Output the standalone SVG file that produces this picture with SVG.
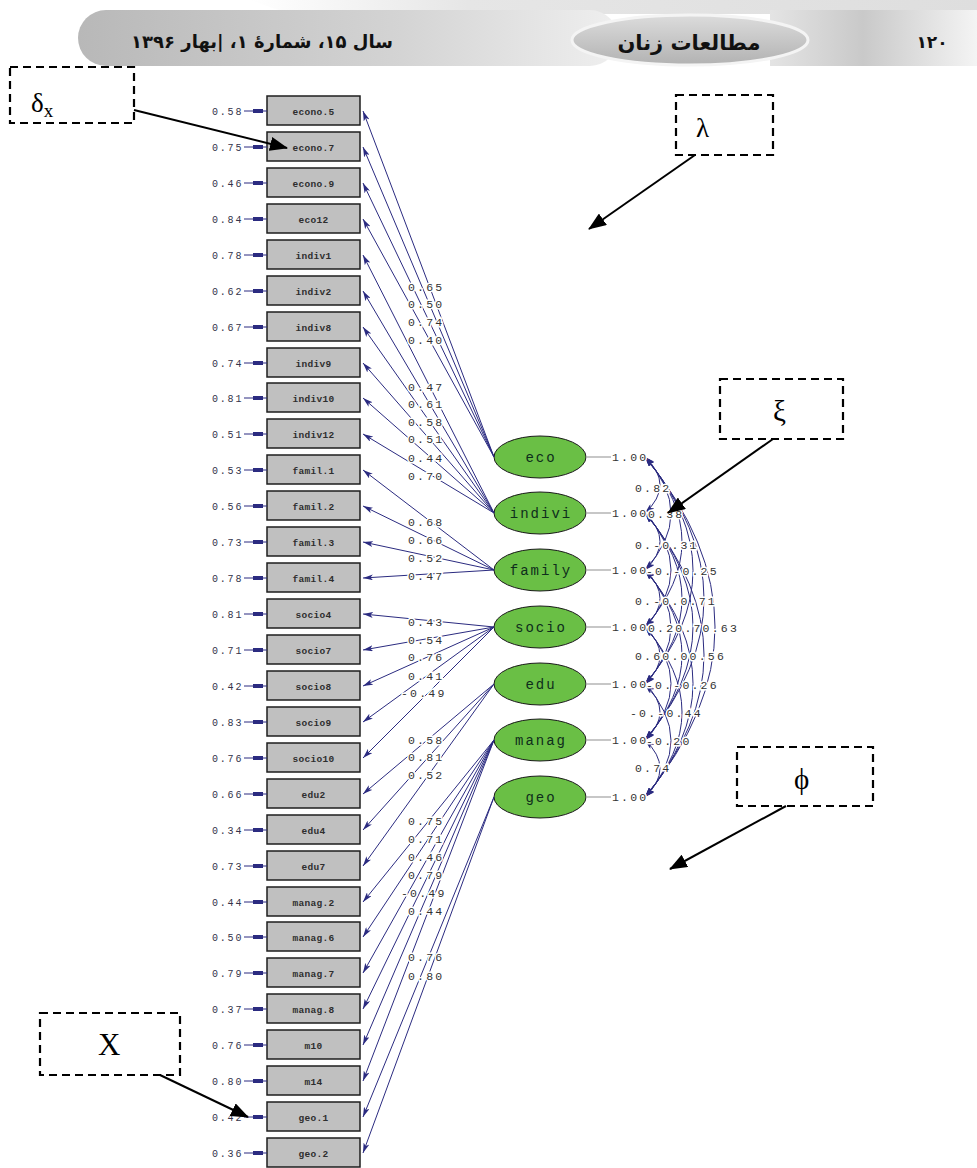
<svg xmlns="http://www.w3.org/2000/svg" width="977" height="1168" viewBox="0 0 977 1168">
<style>
.box{fill:#c0c0c0;stroke:#1e1e1e;stroke-width:1.5}
.bl{font-family:"Liberation Mono","DejaVu Sans Mono",monospace;font-size:9.5px;font-weight:bold;fill:#2e2e2e;text-anchor:middle;letter-spacing:0.3px}
.fac{fill:#6abf45;stroke:#1a1a1a;stroke-width:1}
.fl{font-family:"Liberation Mono","DejaVu Sans Mono",monospace;font-size:14px;fill:#0e2e1c;text-anchor:middle;letter-spacing:2px}
.num{font-family:"Liberation Mono","DejaVu Sans Mono",monospace;font-size:11.5px;fill:#333;letter-spacing:2.2px;stroke:#fff;stroke-width:3;paint-order:stroke}
.err{font-family:"Liberation Mono","DejaVu Sans Mono",monospace;font-size:10px;fill:#33334a;letter-spacing:1.8px}
.ld{stroke:#2b2b80;stroke-width:1;fill:none;marker-end:url(#ah)}
.cv{stroke:#2b2b80;stroke-width:1;fill:none;marker-start:url(#ah2);marker-end:url(#ah2)}
.gl{stroke:#b5b5b5;stroke-width:1.5}
.dash{fill:none;stroke:#000;stroke-width:2.2;stroke-dasharray:8 5}
.ann{stroke:#000;stroke-width:2;marker-end:url(#bh)}
.greek{font-family:"Liberation Serif","DejaVu Serif",serif;fill:#000}
.hd{font-family:"DejaVu Sans",sans-serif;font-weight:bold;fill:#111;text-anchor:middle}
</style>
<defs>
<marker id="ah" viewBox="0 0 10 6" refX="10" refY="3" markerWidth="10" markerHeight="6" markerUnits="userSpaceOnUse" orient="auto"><path d="M0,0 L10,3 L0,6 L2.5,3 z" fill="#2b2b80"/></marker>
<marker id="ah2" viewBox="0 0 10 6" refX="10" refY="3" markerWidth="10" markerHeight="6" markerUnits="userSpaceOnUse" orient="auto-start-reverse"><path d="M0,0 L10,3 L0,6 L2.5,3 z" fill="#2b2b80"/></marker>
<marker id="bh" viewBox="0 0 18 14" refX="17" refY="7" markerWidth="18" markerHeight="14" markerUnits="userSpaceOnUse" orient="auto"><path d="M0,0 L18,7 L0,14 z" fill="#000"/></marker>
<g id="ea"><line x1="244" y1="0" x2="267" y2="0" stroke="#2b2b80" stroke-width="1"/><rect x="253" y="-2" width="10" height="4" fill="#2b2b80"/></g>
<linearGradient id="gL" x1="0" y1="0" x2="1" y2="0"><stop offset="0" stop-color="#b8b8b8"/><stop offset="0.6" stop-color="#d4d4d4"/><stop offset="1" stop-color="#efefef"/></linearGradient>
<linearGradient id="gR" x1="0" y1="0" x2="1" y2="0"><stop offset="0" stop-color="#e4e4e4"/><stop offset="0.45" stop-color="#c9c9c9"/><stop offset="1" stop-color="#f4f4f4"/></linearGradient>
<linearGradient id="gT" x1="0" y1="0" x2="1" y2="0"><stop offset="0" stop-color="#ffffff"/><stop offset="0.3" stop-color="#e6e6e6"/><stop offset="1" stop-color="#dedede"/></linearGradient>
<linearGradient id="gM" x1="0" y1="0" x2="0" y2="1"><stop offset="0" stop-color="#dcdcdc"/><stop offset="1" stop-color="#b2b2b2"/></linearGradient>
</defs>

<g id="header">
<path d="M250 0 H977 V14 H290 Z" fill="url(#gT)"/>
<rect x="78" y="10" width="540" height="56" rx="28" fill="url(#gL)"/>
<rect x="770" y="10" width="207" height="56" fill="url(#gR)"/>
<ellipse cx="690" cy="40" rx="118" ry="25" fill="url(#gM)" stroke="#f4f4f4" stroke-width="3"/>
<text class="hd" x="262" y="48" font-size="18">سال ۱۵، شمارۀ ۱، |بهار ۱۳۹۶</text>
<text class="hd" x="689" y="50" font-size="21">مطالعات زنان</text>
<text class="hd" x="932" y="48" font-size="17">۱۲۰</text>
</g>

<g id="boxes">
<g id="n-econo5"><rect class="box" x="267" y="96" width="93" height="29"/><text class="bl" x="313.5" y="114.5">econo.5</text><text class="err" x="212" y="115">0.58</text></g>
<g id="n-econo7"><rect class="box" x="267" y="132" width="93" height="29"/><text class="bl" x="313.5" y="150.5">econo.7</text><text class="err" x="212" y="151">0.75</text></g>
<g id="n-econo9"><rect class="box" x="267" y="168" width="93" height="29"/><text class="bl" x="313.5" y="186.5">econo.9</text><text class="err" x="212" y="187">0.46</text></g>
<g id="n-eco12"><rect class="box" x="267" y="204" width="93" height="29"/><text class="bl" x="313.5" y="222.5">eco12</text><text class="err" x="212" y="223">0.84</text></g>
<g id="n-indiv1"><rect class="box" x="267" y="240" width="93" height="29"/><text class="bl" x="313.5" y="258.5">indiv1</text><text class="err" x="212" y="259">0.78</text></g>
<g id="n-indiv2"><rect class="box" x="267" y="276" width="93" height="29"/><text class="bl" x="313.5" y="294.5">indiv2</text><text class="err" x="212" y="295">0.62</text></g>
<g id="n-indiv8"><rect class="box" x="267" y="312" width="93" height="29"/><text class="bl" x="313.5" y="330.5">indiv8</text><text class="err" x="212" y="331">0.67</text></g>
<g id="n-indiv9"><rect class="box" x="267" y="348" width="93" height="29"/><text class="bl" x="313.5" y="366.5">indiv9</text><text class="err" x="212" y="367">0.74</text></g>
<g id="n-indiv10"><rect class="box" x="267" y="383" width="93" height="29"/><text class="bl" x="313.5" y="401.5">indiv10</text><text class="err" x="212" y="402">0.81</text></g>
<g id="n-indiv12"><rect class="box" x="267" y="419" width="93" height="29"/><text class="bl" x="313.5" y="437.5">indiv12</text><text class="err" x="212" y="438">0.51</text></g>
<g id="n-famil1"><rect class="box" x="267" y="455" width="93" height="29"/><text class="bl" x="313.5" y="473.5">famil.1</text><text class="err" x="212" y="474">0.53</text></g>
<g id="n-famil2"><rect class="box" x="267" y="491" width="93" height="29"/><text class="bl" x="313.5" y="509.5">famil.2</text><text class="err" x="212" y="510">0.56</text></g>
<g id="n-famil3"><rect class="box" x="267" y="527" width="93" height="29"/><text class="bl" x="313.5" y="545.5">famil.3</text><text class="err" x="212" y="546">0.73</text></g>
<g id="n-famil4"><rect class="box" x="267" y="563" width="93" height="29"/><text class="bl" x="313.5" y="581.5">famil.4</text><text class="err" x="212" y="582">0.78</text></g>
<g id="n-socio4"><rect class="box" x="267" y="599" width="93" height="29"/><text class="bl" x="313.5" y="617.5">socio4</text><text class="err" x="212" y="618">0.81</text></g>
<g id="n-socio7"><rect class="box" x="267" y="635" width="93" height="29"/><text class="bl" x="313.5" y="653.5">socio7</text><text class="err" x="212" y="654">0.71</text></g>
<g id="n-socio8"><rect class="box" x="267" y="671" width="93" height="29"/><text class="bl" x="313.5" y="689.5">socio8</text><text class="err" x="212" y="690">0.42</text></g>
<g id="n-socio9"><rect class="box" x="267" y="707" width="93" height="29"/><text class="bl" x="313.5" y="725.5">socio9</text><text class="err" x="212" y="726">0.83</text></g>
<g id="n-socio10"><rect class="box" x="267" y="743" width="93" height="29"/><text class="bl" x="313.5" y="761.5">socio10</text><text class="err" x="212" y="762">0.76</text></g>
<g id="n-edu2"><rect class="box" x="267" y="779" width="93" height="29"/><text class="bl" x="313.5" y="797.5">edu2</text><text class="err" x="212" y="798">0.66</text></g>
<g id="n-edu4"><rect class="box" x="267" y="815" width="93" height="29"/><text class="bl" x="313.5" y="833.5">edu4</text><text class="err" x="212" y="834">0.34</text></g>
<g id="n-edu7"><rect class="box" x="267" y="851" width="93" height="29"/><text class="bl" x="313.5" y="869.5">edu7</text><text class="err" x="212" y="870">0.73</text></g>
<g id="n-manag2"><rect class="box" x="267" y="887" width="93" height="29"/><text class="bl" x="313.5" y="905.5">manag.2</text><text class="err" x="212" y="906">0.44</text></g>
<g id="n-manag6"><rect class="box" x="267" y="922" width="93" height="29"/><text class="bl" x="313.5" y="940.5">manag.6</text><text class="err" x="212" y="941">0.50</text></g>
<g id="n-manag7"><rect class="box" x="267" y="958" width="93" height="29"/><text class="bl" x="313.5" y="976.5">manag.7</text><text class="err" x="212" y="977">0.79</text></g>
<g id="n-manag8"><rect class="box" x="267" y="994" width="93" height="29"/><text class="bl" x="313.5" y="1012.5">manag.8</text><text class="err" x="212" y="1013">0.37</text></g>
<g id="n-m10"><rect class="box" x="267" y="1030" width="93" height="29"/><text class="bl" x="313.5" y="1048.5">m10</text><text class="err" x="212" y="1049">0.76</text></g>
<g id="n-m14"><rect class="box" x="267" y="1066" width="93" height="29"/><text class="bl" x="313.5" y="1084.5">m14</text><text class="err" x="212" y="1085">0.80</text></g>
<g id="n-geo1"><rect class="box" x="267" y="1102" width="93" height="29"/><text class="bl" x="313.5" y="1120.5">geo.1</text><text class="err" x="212" y="1121">0.42</text></g>
<g id="n-geo2"><rect class="box" x="267" y="1138" width="93" height="29"/><text class="bl" x="313.5" y="1156.5">geo.2</text><text class="err" x="212" y="1157">0.36</text></g>
</g>

<g id="factors">
<g id="f-eco"><ellipse class="fac" cx="540" cy="457" rx="46" ry="21"/><text class="fl" x="541" y="462">eco</text></g>
<g id="f-indivi"><ellipse class="fac" cx="540" cy="513" rx="46" ry="21"/><text class="fl" x="541" y="518">indivi</text></g>
<g id="f-family"><ellipse class="fac" cx="540" cy="570" rx="46" ry="21"/><text class="fl" x="541" y="575">family</text></g>
<g id="f-socio"><ellipse class="fac" cx="540" cy="627" rx="46" ry="21"/><text class="fl" x="541" y="632">socio</text></g>
<g id="f-edu"><ellipse class="fac" cx="540" cy="684" rx="46" ry="21"/><text class="fl" x="541" y="689">edu</text></g>
<g id="f-manag"><ellipse class="fac" cx="540" cy="740" rx="46" ry="21"/><text class="fl" x="541" y="745">manag</text></g>
<g id="f-geo"><ellipse class="fac" cx="540" cy="797" rx="46" ry="21"/><text class="fl" x="541" y="802">geo</text></g>
</g>

<g id="connectors">
<g id="loadings">
<line class="ld" x1="494" y1="457" x2="363" y2="111"/>
<line class="ld" x1="494" y1="457" x2="363" y2="147"/>
<line class="ld" x1="494" y1="457" x2="363" y2="183"/>
<line class="ld" x1="494" y1="457" x2="363" y2="219"/>
<line class="ld" x1="494" y1="513" x2="363" y2="255"/>
<line class="ld" x1="494" y1="513" x2="363" y2="291"/>
<line class="ld" x1="494" y1="513" x2="363" y2="327"/>
<line class="ld" x1="494" y1="513" x2="363" y2="363"/>
<line class="ld" x1="494" y1="513" x2="363" y2="398"/>
<line class="ld" x1="494" y1="513" x2="363" y2="434"/>
<line class="ld" x1="494" y1="570" x2="363" y2="470"/>
<line class="ld" x1="494" y1="570" x2="363" y2="506"/>
<line class="ld" x1="494" y1="570" x2="363" y2="542"/>
<line class="ld" x1="494" y1="570" x2="363" y2="578"/>
<line class="ld" x1="494" y1="627" x2="363" y2="614"/>
<line class="ld" x1="494" y1="627" x2="363" y2="650"/>
<line class="ld" x1="494" y1="627" x2="363" y2="686"/>
<line class="ld" x1="494" y1="627" x2="363" y2="722"/>
<line class="ld" x1="494" y1="627" x2="363" y2="758"/>
<line class="ld" x1="494" y1="684" x2="363" y2="794"/>
<line class="ld" x1="494" y1="684" x2="363" y2="830"/>
<line class="ld" x1="494" y1="684" x2="363" y2="866"/>
<line class="ld" x1="494" y1="740" x2="363" y2="902"/>
<line class="ld" x1="494" y1="740" x2="363" y2="937"/>
<line class="ld" x1="494" y1="740" x2="363" y2="973"/>
<line class="ld" x1="494" y1="740" x2="363" y2="1009"/>
<line class="ld" x1="494" y1="740" x2="363" y2="1045"/>
<line class="ld" x1="494" y1="740" x2="363" y2="1081"/>
<line class="ld" x1="494" y1="797" x2="363" y2="1117"/>
<line class="ld" x1="494" y1="797" x2="363" y2="1153"/>
</g>
<g id="errors">
<use href="#ea" y="111"/><use href="#ea" y="147"/><use href="#ea" y="183"/><use href="#ea" y="219"/>
<use href="#ea" y="255"/><use href="#ea" y="291"/><use href="#ea" y="327"/><use href="#ea" y="363"/>
<use href="#ea" y="398"/><use href="#ea" y="434"/><use href="#ea" y="470"/><use href="#ea" y="506"/>
<use href="#ea" y="542"/><use href="#ea" y="578"/><use href="#ea" y="614"/><use href="#ea" y="650"/>
<use href="#ea" y="686"/><use href="#ea" y="722"/><use href="#ea" y="758"/><use href="#ea" y="794"/>
<use href="#ea" y="830"/><use href="#ea" y="866"/><use href="#ea" y="902"/><use href="#ea" y="937"/>
<use href="#ea" y="973"/><use href="#ea" y="1009"/><use href="#ea" y="1045"/><use href="#ea" y="1081"/>
<use href="#ea" y="1117"/><use href="#ea" y="1153"/>
</g>
<g id="variance-lines">
<line class="gl" x1="586" y1="457" x2="611" y2="457"/>
<line class="gl" x1="586" y1="513" x2="611" y2="513"/>
<line class="gl" x1="586" y1="570" x2="611" y2="570"/>
<line class="gl" x1="586" y1="627" x2="611" y2="627"/>
<line class="gl" x1="586" y1="684" x2="611" y2="684"/>
<line class="gl" x1="586" y1="740" x2="611" y2="740"/>
<line class="gl" x1="586" y1="797" x2="611" y2="797"/>
</g>
<g id="correlations">
<path class="cv" d="M645 457 Q675 485 645 513"/>
<path class="cv" d="M645 457 Q697 513.5 645 570"/>
<path class="cv" d="M645 457 Q719 542 645 627"/>
<path class="cv" d="M645 457 Q741 570.5 645 684"/>
<path class="cv" d="M645 457 Q763 598.5 645 740"/>
<path class="cv" d="M645 457 Q785 627 645 797"/>
<path class="cv" d="M645 513 Q675 541.5 645 570"/>
<path class="cv" d="M645 513 Q697 570 645 627"/>
<path class="cv" d="M645 513 Q719 598.5 645 684"/>
<path class="cv" d="M645 513 Q741 626.5 645 740"/>
<path class="cv" d="M645 513 Q763 655 645 797"/>
<path class="cv" d="M645 570 Q675 598.5 645 627"/>
<path class="cv" d="M645 570 Q697 627 645 684"/>
<path class="cv" d="M645 570 Q719 655 645 740"/>
<path class="cv" d="M645 570 Q741 683.5 645 797"/>
<path class="cv" d="M645 627 Q675 655.5 645 684"/>
<path class="cv" d="M645 627 Q697 683.5 645 740"/>
<path class="cv" d="M645 627 Q719 712 645 797"/>
<path class="cv" d="M645 684 Q675 712 645 740"/>
<path class="cv" d="M645 684 Q697 740.5 645 797"/>
<path class="cv" d="M645 740 Q675 768.5 645 797"/>
</g>
</g>

<g id="loading-labels">
<text class="num" x="408" y="291">0.65</text>
<text class="num" x="408" y="308">0.50</text>
<text class="num" x="408" y="326">0.74</text>
<text class="num" x="408" y="344">0.40</text>
<text class="num" x="408" y="391">0.47</text>
<text class="num" x="408" y="408">0.61</text>
<text class="num" x="408" y="426">0.58</text>
<text class="num" x="408" y="443">0.51</text>
<text class="num" x="408" y="462">0.44</text>
<text class="num" x="408" y="480">0.70</text>
<text class="num" x="408" y="526">0.68</text>
<text class="num" x="408" y="544">0.66</text>
<text class="num" x="408" y="562">0.52</text>
<text class="num" x="408" y="580">0.47</text>
<text class="num" x="408" y="626">0.43</text>
<text class="num" x="408" y="644">0.54</text>
<text class="num" x="408" y="661">0.76</text>
<text class="num" x="408" y="680">0.41</text>
<text class="num" x="401" y="697">-0.49</text>
<text class="num" x="408" y="744">0.58</text>
<text class="num" x="408" y="761">0.81</text>
<text class="num" x="408" y="779">0.52</text>
<text class="num" x="408" y="825">0.75</text>
<text class="num" x="408" y="843">0.71</text>
<text class="num" x="408" y="861">0.46</text>
<text class="num" x="408" y="879">0.79</text>
<text class="num" x="401" y="897">-0.49</text>
<text class="num" x="408" y="915">0.44</text>
<text class="num" x="408" y="961">0.76</text>
<text class="num" x="408" y="980">0.80</text>
</g>

<g id="correlation-labels">
<text class="num" x="612" y="461">1.00</text>
<text class="num" x="635" y="492">0.82</text>
<text class="num" x="612" y="517">1.00</text>
<text class="num" x="648" y="518">0.38</text>
<text class="num" x="635" y="549">0.-0.31</text>
<text class="num" x="612" y="574">1.00</text>
<text class="num" x="646" y="575">-0.-0.25</text>
<text class="num" x="635" y="605">0.-0.0.71</text>
<text class="num" x="612" y="631">1.00</text>
<text class="num" x="648" y="632">0.20.70.63</text>
<text class="num" x="635" y="660">0.60.00.56</text>
<text class="num" x="612" y="688">1.00</text>
<text class="num" x="646" y="689">-0.-0.26</text>
<text class="num" x="630" y="717">-0.-0.44</text>
<text class="num" x="612" y="744">1.00</text>
<text class="num" x="646" y="745">-0.20</text>
<text class="num" x="635" y="772">0.74</text>
<text class="num" x="612" y="801">1.00</text>
</g>

<g id="annotations">
<g id="a-delta"><rect class="dash" x="10" y="67" width="124" height="56"/><text class="greek" x="31" y="112" font-size="27">δ<tspan font-size="19" dy="5">x</tspan></text></g>
<g id="a-lambda"><rect class="dash" x="676" y="95" width="97" height="60"/><text class="greek" x="696" y="137" font-size="27">λ</text></g>
<g id="a-xi"><rect class="dash" x="720" y="379" width="123" height="60"/><text class="greek" x="773" y="421" font-size="29">ξ</text></g>
<g id="a-phi"><rect class="dash" x="737" y="747" width="136" height="59"/><text class="greek" x="794" y="789" font-size="29">ϕ</text></g>
<g id="a-x"><rect class="dash" x="40" y="1013" width="140" height="62"/><text class="greek" x="98" y="1055" font-size="31">X</text></g>
</g>

<g id="annotation-connectors">
<line class="ann" x1="134" y1="110" x2="287" y2="148"/>
<line class="ann" x1="695" y1="155" x2="589" y2="229"/>
<line class="ann" x1="773" y1="439" x2="668" y2="513"/>
<line class="ann" x1="786" y1="806" x2="670" y2="869"/>
<line class="ann" x1="160" y1="1075" x2="248" y2="1117"/>
</g>
</svg>
